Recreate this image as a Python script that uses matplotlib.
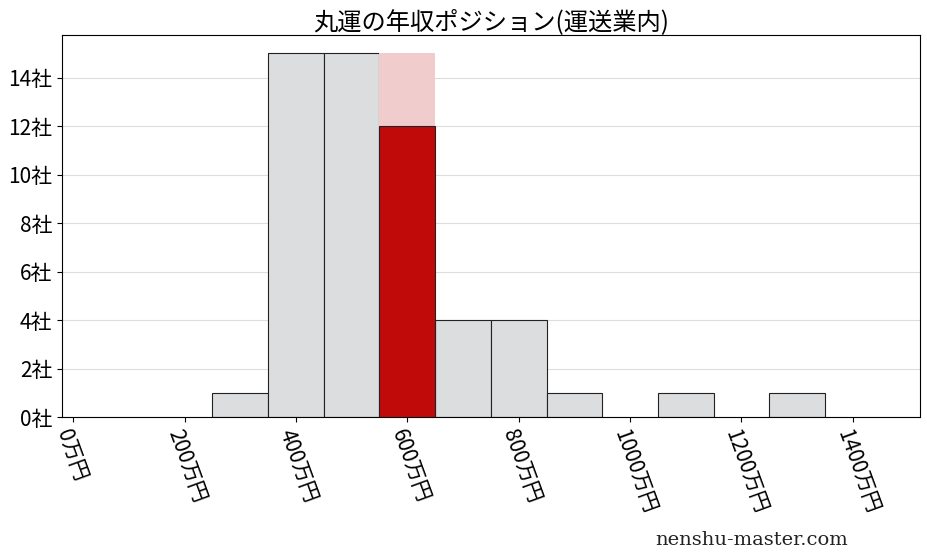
import matplotlib
matplotlib.use("Agg")
import matplotlib.pyplot as plt

plt.rcParams["font.family"] = ["Noto Sans CJK JP", "DejaVu Sans"]

# 年収の階級 (万円, 階級の中心) と社数
bin_centers = [300, 400, 500, 600, 700, 800, 900, 1000, 1100, 1200, 1300]
counts = [1, 15, 15, 15, 4, 4, 1, 0, 1, 0, 1]
# 丸運が入る階級の中での位置
target_center = 600
target_count = 12

title = "丸運の年収ポジション(運送業内)"
xticks = [0, 200, 400, 600, 800, 1000, 1200, 1400]
yticks = [0, 2, 4, 6, 8, 10, 12, 14]

fig = plt.figure(figsize=(9.28, 5.57), dpi=100)
ax = fig.add_axes([0.0668, 0.2513, 0.9242, 0.6857])

for c, n in zip(bin_centers, counts):
    if n == 0:
        continue
    if c == target_center:
        ax.bar(c, n, width=100, color="#f0cccd", edgecolor="none", zorder=2)
        ax.bar(c, target_count, width=100, color="#c00a0a",
               edgecolor="#222222", linewidth=0.8, zorder=3)
    else:
        ax.bar(c, n, width=100, color="#dcdddf",
               edgecolor="#222222", linewidth=0.8, zorder=2)

ax.set_xlim(-20, 1520)
ax.set_ylim(0, 15.75)
ax.set_xticks(xticks)
ax.set_xticklabels([f"{v}万円" for v in xticks], rotation=-70,
                   ha="left", va="top", rotation_mode="anchor", fontsize=15)
ax.set_yticks(yticks)
ax.set_yticklabels([f"{v}社" for v in yticks], fontsize=15)
ax.yaxis.grid(True, color="#dddddd", linewidth=0.8, zorder=0)
ax.set_axisbelow(True)
ax.set_title(title, fontsize=17.5, pad=4)

fig.text(0.706, 0.022, "nenshu-master.com", fontsize=14,
         family="DejaVu Serif", color="#222222")

fig.savefig("out.png", dpi=100)
